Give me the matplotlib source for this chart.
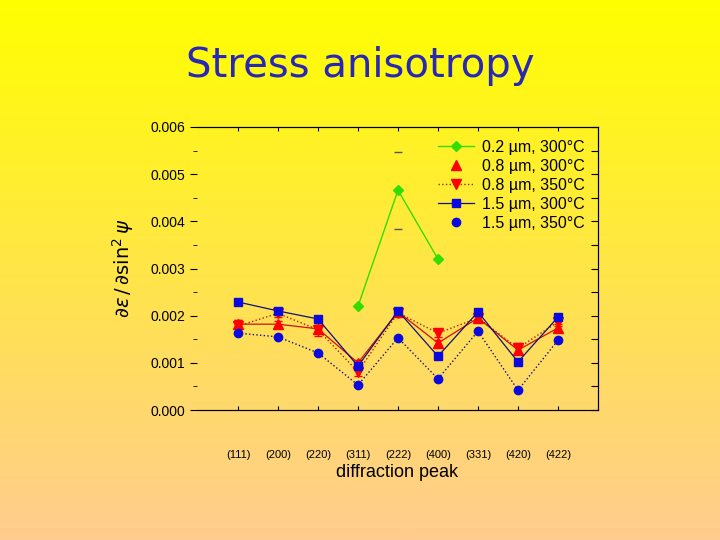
import matplotlib.pyplot as plt
import numpy as np
from matplotlib.colors import LinearSegmentedColormap

peaks = ["(111)", "(200)", "(220)", "(311)", "(222)", "(400)", "(331)", "(420)", "(422)"]

# 0.2 um, 300C only measured on three peaks
g_idx = [3, 4, 5]
g_val = [0.00220, 0.00466, 0.00320]
g_err = [0.0, 0.00082, 0.0]

r_up = [0.00182, 0.00182, 0.00172, 0.00100, 0.00208, 0.00142, 0.00195, 0.00127, 0.00174]
r_up_err = [0.00008, 0.00006, 0.00008, 0.00006, 0.00005, 0.00006, 0.00006, 0.00008, 0.00008]
r_dn = [0.00178, 0.00205, 0.00170, 0.00081, 0.00206, 0.00163, 0.00195, 0.00131, 0.00187]
r_dn_err = [0.00012, 0.00008, 0.00014, 0.00008, 0.00006, 0.00008, 0.00006, 0.00010, 0.00008]
b_sq = [0.00229, 0.00210, 0.00193, 0.00093, 0.00210, 0.00114, 0.00208, 0.00102, 0.00197]
b_ci = [0.00163, 0.00155, 0.00121, 0.00053, 0.00153, 0.00066, 0.00167, 0.00042, 0.00148]

x = np.arange(len(peaks))

fig = plt.figure(figsize=(7.2, 5.4), dpi=100)

# gradient background yellow -> peach
bg = fig.add_axes([0, 0, 1, 1], zorder=-10)
cmap = LinearSegmentedColormap.from_list("bg", ["#FFFF00", "#FFCC90"])
bg.imshow(np.linspace(0, 1, 256).reshape(-1, 1), aspect="auto", cmap=cmap,
          extent=[0, 1, 0, 1])
bg.axis("off")

fig.text(0.5, 0.878, "Stress anisotropy", ha="center", va="center",
         fontsize=29, color="#2828B4", family="DejaVu Sans")

ax = fig.add_axes([197 / 720, 1 - 410 / 540, 401 / 720, 283 / 540])
ax.patch.set_alpha(0)

navy = "#10107A"
blue = "#0A0AE0"
green = "#33DD00"
ax.plot(x, b_ci, ":", color=navy, lw=1.0)
ax.plot(x, r_up, "-", color="#D01010", lw=0.9)

ax.errorbar(x, r_up, yerr=r_up_err, fmt="none", ecolor="red", elinewidth=0.8, capsize=3)
ax.errorbar(x, r_dn, yerr=r_dn_err, fmt="none", ecolor="red", elinewidth=0.8, capsize=3)
ax.errorbar(g_idx, g_val, yerr=g_err, fmt="none", ecolor="#555555", elinewidth=0, capsize=3)

ax.plot(g_idx, g_val, "-D", color=green, ms=5, lw=1.0, label="0.2 \u00b5m, 300\u00b0C")
ax.plot(x, r_up, "^", color="red", ms=7, ls="none", label="0.8 \u00b5m, 300\u00b0C")
ax.plot(x, r_dn, "v", color="#B02000", mfc="red", mec="red", ms=7, ls=":", lw=1.0,
        label="0.8 \u00b5m, 350\u00b0C")
ax.plot(x, b_sq, "s", color=navy, mfc=blue, mec=blue, ms=6, ls="-", lw=0.9,
        label="1.5 \u00b5m, 300\u00b0C")
ax.plot(x, b_ci, "o", color=blue, ms=6, ls="none", label="1.5 \u00b5m, 350\u00b0C")

ax.legend(loc="upper right", frameon=False, handlelength=2.3, handletextpad=0.5,
          borderaxespad=0.4, labelspacing=0.25,
          prop={"family": "Liberation Sans", "size": 11.5})

ax.set_xlim(-1.025, 9.0)
ax.set_ylim(0, 0.006)
ax.set_yticks(np.arange(0, 0.0061, 0.001))
ax.set_yticks(np.arange(0.0005, 0.006, 0.001), minor=True)
ax.set_yticklabels([f"{v:.3f}" for v in np.arange(0, 0.0061, 0.001)],
                   family="Liberation Sans", fontsize=10)
ax.set_xticks(x)
ax.set_xticklabels(peaks, family="Liberation Sans", fontsize=8)
ax.spines["left"].set_visible(False)
ax.tick_params(axis="y", which="major", direction="out", length=5, right=False)
ax.tick_params(axis="y", which="minor", direction="out", length=3, right=False)
ax.tick_params(axis="x", direction="in", length=3, top=True, pad=29)

# right side: inward ticks every 0.0005
axr = ax.twinx()
axr.set_ylim(0, 0.006)
axr.set_yticks(np.arange(0, 0.0061, 0.0005))
axr.tick_params(direction="in", length=5, labelright=False)
axr.spines["left"].set_visible(False)

ax.set_xlabel("diffraction peak", family="Liberation Sans", fontsize=13, labelpad=3)
ax.set_ylabel(r"$\partial\varepsilon\,/\,\partial\sin^2\psi$", fontsize=14, labelpad=10)

fig.savefig("out.png", dpi=100)
